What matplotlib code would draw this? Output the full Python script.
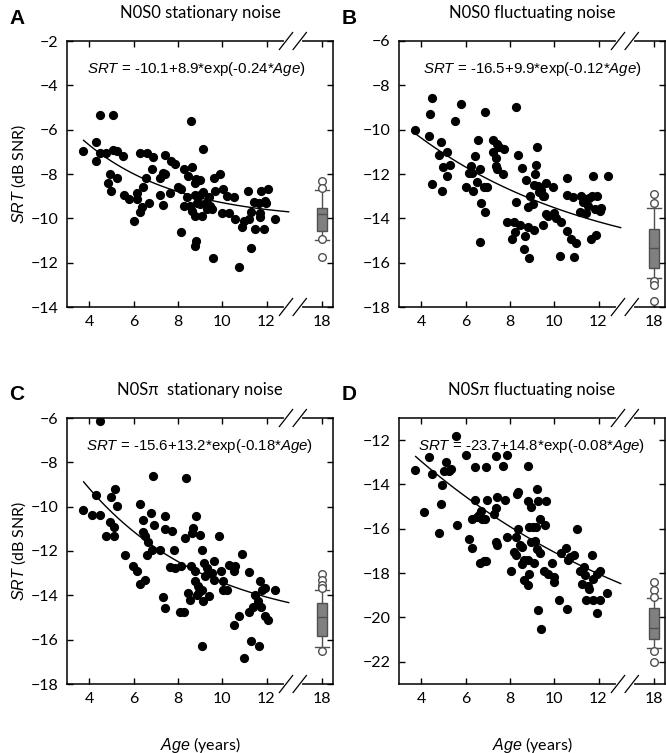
import matplotlib
matplotlib.use("Agg")
import matplotlib.pyplot as plt
import numpy as np

plt.rcParams['mathtext.fontset'] = 'custom'
plt.rcParams['mathtext.rm'] = 'Liberation Sans'
plt.rcParams['mathtext.it'] = 'Liberation Sans:italic'

# ---------------- data ----------------
titles = ["N0S0 stationary noise", "N0S0 fluctuating noise",
          "N0S\u03c0  stationary noise", "N0S\u03c0 fluctuating noise"]
letters = ["A", "B", "C", "D"]
equations = ["-10.1+8.9*exp(-0.24*", "-16.5+9.9*exp(-0.12*",
             "-15.6+13.2*exp(-0.18*", "-23.7+14.8*exp(-0.08*"]
fit_a = [-10.1, -16.5, -15.6, -23.7]
fit_b = [8.9, 9.9, 13.2, 14.8]
fit_c = [-0.24, -0.12, -0.18, -0.08]
ylims = [(-14, -2), (-18, -6), (-18, -6), (-23, -11)]
yticks = [range(-14, -1, 2), range(-18, -5, 2), range(-18, -5, 2), range(-22, -11, 2)]
xticks = [4, 6, 8, 10, 12, 14.5]
xticklabels = ["4", "6", "8", "10", "12", "18"]

ageA = [3.73, 4.33, 4.48, 5.09, 4.33, 4.48, 4.75, 5.09, 5.27, 5.51, 4.94, 4.86, 4.97, 5.27,
        5.57, 5.80, 6.00, 6.17, 6.29, 6.63, 6.87, 6.82, 6.57, 6.42, 6.17, 6.37, 6.29, 6.72,
        7.20, 7.35, 7.20, 7.42, 7.42, 7.68, 7.88, 7.65, 8.00, 8.14, 8.29, 8.45, 8.60, 8.65,
        8.83, 8.78, 8.41, 8.26, 8.56, 8.63, 8.78, 8.78, 9.01, 9.09, 9.13, 8.98, 9.15, 9.28,
        9.39, 9.46, 9.54, 9.61, 9.92, 9.69, 10.04, 10.22, 10.53, 9.99, 10.29, 10.60, 8.14,
        8.83, 8.78, 9.59, 10.75, 10.90, 10.98, 11.20, 11.32, 11.17, 11.43, 11.28, 11.50,
        11.70, 11.70, 11.88, 11.76, 12.06, 11.91, 11.98, 12.38, 11.65, 9.01, 9.31, 8.86, 7.35]
srtA = [-6.94, -6.56, -5.35, -5.35, -7.42, -7.04, -7.04, -6.92, -6.97, -7.19, -7.98, -8.39,
        -8.76, -8.19, -8.96, -9.14, -10.11, -8.84, -7.04, -7.04, -7.24, -7.79, -8.19, -8.57,
        -9.14, -9.51, -9.71, -9.32, -8.96, -9.41, -8.16, -7.15, -8.01, -7.42, -7.57, -8.84,
        -8.57, -8.69, -7.79, -8.09, -5.62, -7.67, -8.21, -8.39, -9.06, -9.44, -9.44, -9.66,
        -9.89, -8.96, -8.96, -9.89, -6.86, -8.27, -8.81, -9.29, -9.06, -9.44, -9.59, -8.19,
        -7.98, -8.76, -8.66, -8.99, -9.03, -9.78, -9.74, -10.01, -10.61, -11.01, -11.24,
        -11.81, -12.18, -10.41, -10.11, -10.04, -11.34, -8.76, -9.26, -9.71, -10.46, -9.74,
        -9.92, -10.46, -8.76, -8.66, -9.21, -9.32, -10.01, -9.29, -9.36, -9.59, -9.29, -7.94]

ageB = [3.74, 4.35, 4.50, 4.38, 4.50, 4.91, 4.80, 5.15, 5.00, 5.30, 5.15, 4.95, 5.51, 5.81,
        6.00, 6.23, 6.16, 6.31, 6.43, 6.57, 6.54, 6.32, 6.66, 6.72, 6.87, 6.66, 6.87, 6.84,
        6.96, 7.25, 7.44, 7.22, 7.37, 7.37, 7.44, 7.74, 7.67, 7.52, 8.30, 8.38, 8.57, 8.72,
        8.27, 7.86, 8.17, 8.47, 8.09, 8.24, 8.68, 8.80, 8.62, 8.85, 8.92, 8.80, 9.03, 9.10,
        9.18, 9.21, 9.13, 9.10, 9.25, 9.33, 9.40, 9.48, 9.63, 9.48, 9.55, 9.63, 9.71, 9.96,
        10.00, 10.08, 10.31, 10.58, 10.58, 10.58, 10.76, 10.99, 10.26, 10.91, 11.21, 11.29,
        11.37, 11.18, 11.44, 11.52, 11.59, 11.70, 11.82, 11.94, 12.05, 12.10, 11.77, 12.42,
        11.67, 11.89, 10.84]
srtB = [-10.01, -10.28, -8.58, -9.30, -12.45, -10.55, -11.15, -11.03, -11.70, -11.60, -12.08,
        -12.75, -9.60, -8.85, -12.57, -11.66, -11.96, -11.97, -11.21, -10.46, -12.38, -12.75,
        -11.78, -13.31, -13.70, -15.05, -9.20, -12.60, -12.60, -10.47, -10.65, -11.00, -11.30,
        -11.63, -11.78, -10.85, -12.00, -10.76, -8.96, -11.15, -11.75, -12.26, -13.25, -14.15,
        -14.15, -14.30, -14.93, -14.60, -14.78, -14.40, -15.38, -15.80, -12.98, -13.50, -13.35,
        -14.51, -11.60, -10.76, -12.00, -12.50, -12.53, -12.80, -12.71, -12.98, -12.41, -14.30,
        -13.00, -13.80, -13.88, -12.57, -13.77, -14.00, -14.18, -12.18, -12.95, -14.55, -14.93,
        -15.11, -15.71, -15.75, -13.00, -13.28, -13.13, -13.73, -13.76, -13.43, -13.10, -13.00,
        -13.58, -12.98, -13.65, -13.55, -12.08, -12.08, -14.93, -14.75, -13.05]

ageC = [4.48, 3.73, 4.11, 4.48, 4.33, 4.97, 5.16, 5.27, 4.94, 5.12, 4.75, 5.12, 5.62, 5.96,
        6.17, 6.29, 6.52, 6.29, 6.41, 6.41, 6.52, 6.67, 6.63, 6.78, 6.93, 6.87, 6.82, 7.20,
        7.42, 7.42, 7.73, 7.83, 7.63, 7.88, 7.35, 7.42, 8.11, 8.29, 8.14, 8.33, 8.36, 8.63,
        8.68, 8.83, 8.59, 8.48, 8.56, 8.78, 8.78, 8.89, 9.09, 9.19, 9.31, 9.24, 9.09, 8.94,
        9.13, 9.39, 9.54, 9.61, 9.64, 9.87, 9.95, 10.04, 10.04, 10.22, 10.29, 10.60, 10.52,
        10.90, 11.23, 10.75, 10.52, 11.20, 11.40, 11.73, 11.70, 11.80, 11.50, 11.95, 11.91,
        12.06, 12.38, 9.09, 10.98, 11.31, 11.68, 8.86, 8.98, 11.60]
srtC = [-6.15, -10.17, -10.36, -10.36, -9.49, -9.58, -9.20, -9.95, -10.71, -10.92, -11.31,
        -11.31, -12.17, -12.69, -12.92, -13.49, -13.29, -9.86, -10.62, -11.16, -11.34, -11.61,
        -12.17, -10.29, -10.81, -8.60, -11.94, -11.97, -10.44, -11.01, -11.11, -11.97, -12.72,
        -12.77, -14.08, -14.57, -14.77, -14.74, -12.66, -11.41, -8.71, -11.19, -10.96, -10.41,
        -12.69, -13.89, -14.23, -12.92, -13.37, -13.59, -11.97, -12.54, -12.77, -13.14, -13.74,
        -13.86, -14.24, -14.05, -12.99, -12.47, -13.29, -11.31, -12.92, -13.37, -13.77, -13.77,
        -12.62, -12.69, -12.92, -12.12, -12.96, -14.95, -15.32, -14.74, -14.53, -14.53, -13.37,
        -13.74, -13.97, -13.67, -14.95, -15.10, -13.77, -16.27, -16.83, -16.08, -16.27, -13.97,
        -11.26, -14.27]

ageD = [3.74, 4.35, 4.50, 4.15, 4.92, 4.91, 4.80, 5.03, 5.13, 5.25, 5.33, 5.55, 5.60, 6.00,
        6.16, 6.31, 6.43, 6.43, 6.31, 6.51, 6.61, 6.69, 6.76, 6.66, 6.84, 6.91, 6.91, 6.96,
        6.87, 7.29, 7.37, 7.37, 7.44, 7.44, 7.37, 7.67, 7.86, 7.77, 7.86, 8.06, 8.17, 8.27,
        8.32, 8.38, 8.27, 8.38, 8.47, 8.57, 8.65, 8.62, 8.80, 8.88, 8.80, 8.80, 8.95, 8.88,
        8.95, 8.80, 9.07, 9.03, 9.13, 9.22, 9.25, 9.18, 9.22, 9.37, 9.37, 9.58, 9.63, 9.25,
        9.40, 9.55, 9.71, 9.89, 9.98, 10.00, 10.23, 10.31, 10.54, 10.58, 10.61, 10.73, 10.88,
        11.03, 11.18, 11.24, 11.33, 11.39, 11.44, 11.52, 11.55, 11.70, 11.74, 11.74, 11.94,
        12.09, 11.94, 12.05, 12.39, 8.57]
srtD = [-13.35, -12.78, -13.53, -15.25, -14.01, -14.88, -16.20, -13.41, -12.97, -13.38, -13.30,
        -11.81, -15.82, -12.66, -16.48, -16.86, -13.23, -14.70, -15.55, -15.48, -15.36, -15.21,
        -15.55, -17.53, -17.46, -17.43, -13.23, -14.70, -15.55, -15.33, -15.06, -12.70, -14.58,
        -16.75, -16.60, -13.15, -12.66, -14.68, -16.35, -17.91, -17.05, -17.16, -14.43, -14.35,
        -16.38, -16.00, -16.75, -17.58, -17.40, -18.33, -18.55, -18.06, -13.15, -14.73, -15.00,
        -15.90, -16.60, -17.40, -17.55, -15.90, -16.53, -14.20, -14.73, -15.90, -16.90, -17.10,
        -15.55, -15.81, -14.73, -19.65, -20.50, -17.91, -18.03, -17.55, -18.40, -18.18, -19.23,
        -17.10, -16.87, -19.63, -17.40, -17.28, -17.20, -16.00, -17.91, -18.51, -17.73, -18.10,
        -19.20, -18.60, -18.70, -17.16, -18.25, -19.20, -18.03, -17.91, -19.80, -19.20, -18.88,
        -16.83]

# adult (18 years) box plots
box_q1 = [-10.57, -16.26, -15.83, -20.98]
box_med = [-9.82, -15.36, -14.99, -20.46]
box_q3 = [-9.52, -14.49, -14.33, -19.59]
box_lo = [-10.98, -16.67, -16.32, -21.39]
box_hi = [-8.73, -13.52, -13.76, -19.12]
box_fliers = [[-8.32, -8.65, -10.94, -11.74],
              [-12.89, -13.29, -16.82, -17.01, -17.72],
              [-13.04, -13.31, -13.53, -13.67, -16.50],
              [-18.40, -18.77, -19.07, -21.50, -22.00]]

ages = [ageA, ageB, ageC, ageD]
srts = [srtA, srtB, srtC, srtD]

# ---------------- figure ----------------
fig = plt.figure(figsize=(6.66, 7.53), dpi=100)
W, H = 666, 753
boxes_px = [(67, 41), (399, 41), (67, 418), (399, 418)]
label_font = ['Lato', 'DejaVu Sans']


def draw_break(ax, x1=12.88, x2=13.5):
    tr = ax.get_xaxis_transform()
    dx, dy = 0.3, 0.032
    for y in (0, 1):
        ax.plot([x1, x2], [y, y], color='white', lw=3, transform=tr,
                clip_on=False, zorder=10)
        for x in (x1, x2):
            ax.plot([x - dx, x + dx], [y - dy, y + dy], color='black', lw=0.9,
                    transform=tr, clip_on=False, zorder=11)


for i in range(4):
    left, top = boxes_px[i]
    ax = fig.add_axes([left / W, 1 - (top + 266) / H, 266 / W, 266 / H])
    ax.scatter(ages[i], srts[i], s=44, color='black', zorder=3, linewidths=0)

    xs = np.linspace(3.75, 13.0, 100)
    ax.plot(xs, fit_a[i] + fit_b[i] * np.exp(fit_c[i] * xs), color='black', lw=1, zorder=2)

    stats = [dict(med=box_med[i], q1=box_q1[i], q3=box_q3[i], whislo=box_lo[i],
                  whishi=box_hi[i], fliers=box_fliers[i])]
    ax.bxp(stats, positions=[14.5], widths=0.42, patch_artist=True,
           boxprops=dict(facecolor='#808080', edgecolor='#505050', lw=1),
           medianprops=dict(color='#505050', lw=1),
           whiskerprops=dict(color='#505050', lw=1),
           capprops=dict(color='#505050', lw=1),
           flierprops=dict(marker='o', markerfacecolor='white', markeredgecolor='#505050',
                           markersize=5.5, markeredgewidth=1),
           capwidths=0.6, manage_ticks=False)

    ax.set_xlim(3, 15)
    ax.set_ylim(*ylims[i])
    ax.set_xticks(xticks)
    ax.set_xticklabels(xticklabels)
    ax.set_yticks(list(yticks[i]))
    ax.tick_params(direction='in', top=True, right=True, length=4, width=1,
                   labelsize=11.5, pad=6)
    for lab in ax.get_xticklabels() + ax.get_yticklabels():
        lab.set_family(label_font)
    for sp in ax.spines.values():
        sp.set_linewidth(1.1)
    draw_break(ax)

    ax.text(0.5 if i else 0.485, 0.895, "$SRT$ = " + equations[i] + "$Age$)",
            transform=ax.transAxes, ha='center', va='center', fontsize=10.8,
            family='Liberation Sans')

    cx = (left + 133) / W
    fig.text(cx, 1 - (top - 28) / H, titles[i], ha='center', va='center',
             fontsize=12, family=label_font)
    fig.text((left - 50) / W, 1 - (top - 23) / H, letters[i], ha='center', va='center',
             fontsize=15, fontweight='bold', family='Liberation Sans')

    if i in (0, 2):
        ax.set_ylabel("$SRT$ (dB SNR)", fontsize=11.5, family=label_font)
        ax.yaxis.set_label_coords(-0.145, 0.5)
    if i in (2, 3):
        ax.set_xlabel("$Age$ (years)", fontsize=11.5, family=label_font)
        ax.xaxis.set_label_coords(0.5, -0.19)

fig.savefig("out.png", dpi=100)
